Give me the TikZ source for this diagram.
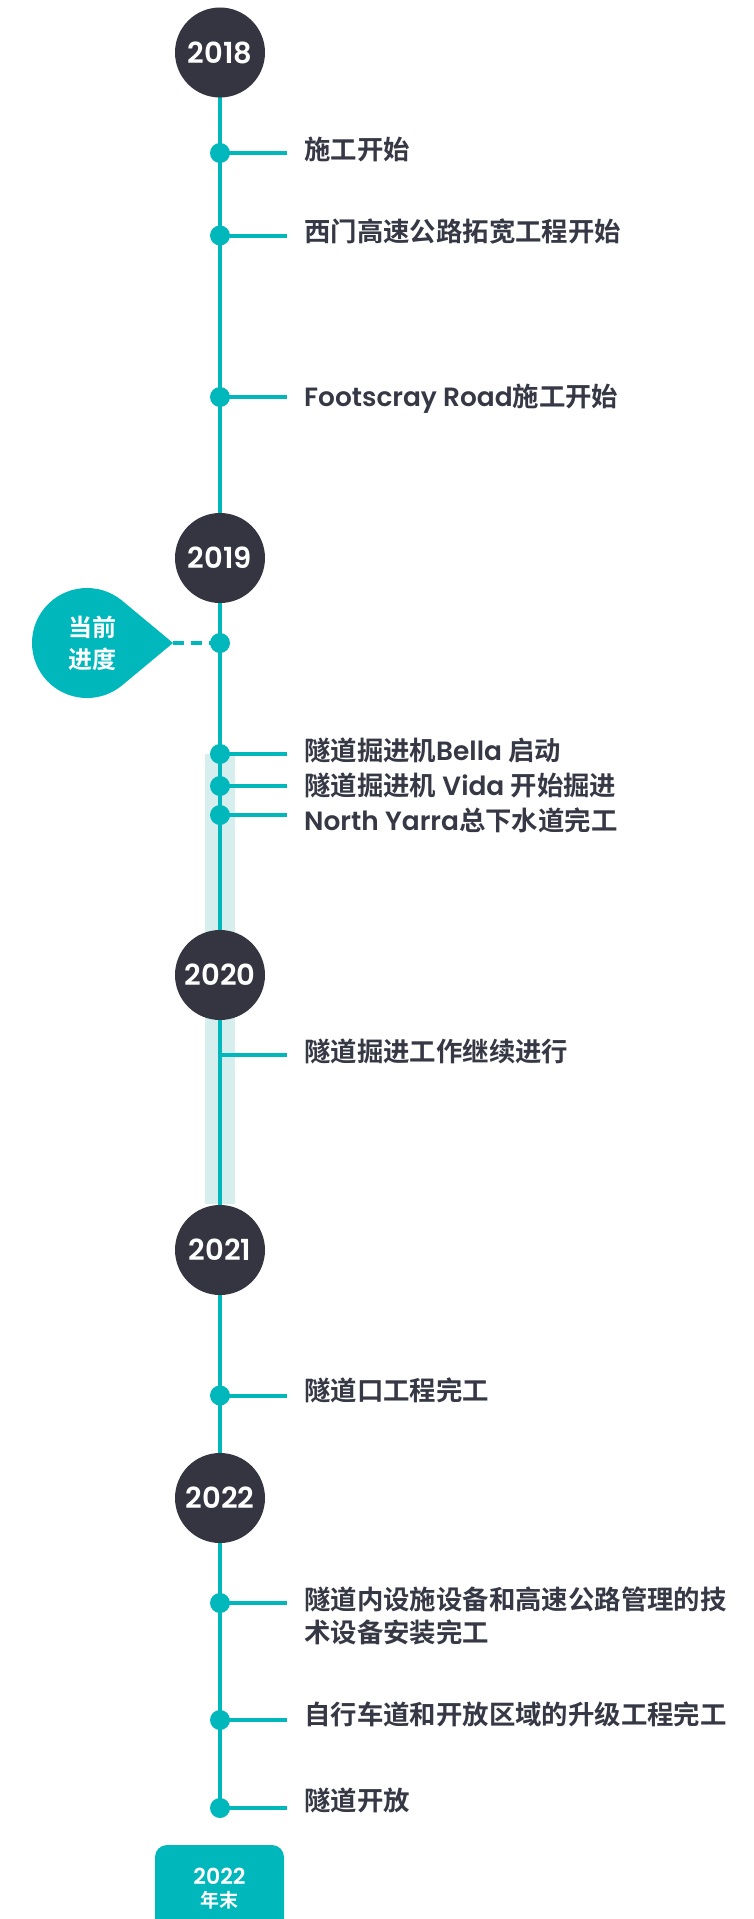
\documentclass[tikz,border=0pt]{standalone}
\usepackage{fontspec}
\newfontfamily\cjk{Noto Sans CJK SC}[BoldFont={Noto Sans CJK SC Bold}]
\newfontfamily\lat{Poppins}[BoldFont={Poppins SemiBold}]
\usetikzlibrary{calc}
\usetikzlibrary{backgrounds}
\definecolor{vrteal}{HTML}{00B8BC}
\definecolor{vrdark}{HTML}{343541}
\definecolor{vrtext}{HTML}{363845}
\definecolor{vrband}{HTML}{D6EEEE}

\begin{document}
\begin{tikzpicture}[x=1pt,y=-1pt,
            year/.style = {circle,fill=vrdark,minimum size=90pt,inner sep=0pt,
                text=white,font=\lat\bfseries\fontsize{29}{29}\selectfont},
            dot/.style = {circle,fill=vrteal,minimum size=20pt,inner sep=0pt},
            tick/.style = {draw=vrteal,line width=4pt},
            spine/.style = {draw=vrteal,line width=3.5pt},
            lbl/.style = {anchor=base west,inner sep=0pt,text=vrtext,align=left,
                font=\cjk\bfseries\fontsize{26.4}{33}\selectfont}]
            \useasboundingbox (0,0) rectangle (754,1919);
            \coordinate (tx) at (287,0);
            \node[year] (y18) at (220,52.5) {2018};
            \node[year] (y19) at (220,558) {2019};
            \node[year] (y20) at (220,975) {2020};
            \node[year] (y21) at (220,1250) {2021};
            \node[year] (y22) at (220,1498) {2022};
            \node[dot] (d1) at (220,153) {};
            \node[dot] (d2) at (220,235.5) {};
            \node[dot] (d3) at (220,397) {};
            \node[dot] (d4) at (220,643) {};
            \node[dot] (d5) at (220,754) {};
            \node[dot] (d6) at (220,786) {};
            \node[dot] (d7) at (220,815) {};
            \coordinate (k1) at (220,1055);
            \node[dot] (d8) at (220,1395.5) {};
            \node[dot] (d9) at (220,1603) {};
            \node[dot] (d10) at (220,1720) {};
            \node[dot] (d11) at (220,1808) {};
            \node[lbl] (l1) at (304,159.5) {施工开始};
            \node[lbl] (l2) at (304,241.5) {西门高速公路拓宽工程开始};
            \node[lbl] (l3) at (304,406) {{\lat Footscray Road}施工开始};
            \node[lbl] (l4) at (304,760) {隧道掘进机{\lat Bella }启动};
            \node[lbl] (l5) at (304,795) {隧道掘进机{\lat\ Vida }开始掘进};
            \node[lbl] (l6) at (304,830) {{\lat North Yarra}总下水道完工};
            \node[lbl] (l7) at (304,1061) {隧道掘进工作继续进行};
            \node[lbl] (l8) at (304,1400) {隧道口工程完工};
            \node[lbl,anchor=west] (l9) at (304,1615.5)
                {隧道内设施设备和高速公路管理的技\\术设备安装完工};
            \node[lbl] (l10) at (304,1724) {自行车道和开放区域的升级工程完工};
            \node[lbl] (l11) at (304,1810) {隧道开放};
            % current progress marker
            \coordinate (tc) at (87,643);
            \coordinate (tip) at (173,643);
            \fill[vrteal] (tip) -- ($(tc)+(50.2:55pt)$)
                arc[start angle=50.2,end angle=309.8,radius=55pt] -- cycle;
            \node[text=white,align=center,inner sep=0pt,
                font=\cjk\bfseries\fontsize{24}{32}\selectfont] (now) at (92,643) {当前\\进度};
            \draw[vrteal,line width=4pt,dash pattern=on 11pt off 7pt] (tip) -- (d4.center);
            % end box
            \node[fill=vrteal,rounded corners=12pt,minimum width=129pt,minimum height=88pt,
                text=white,align=center,inner sep=0pt,
                font=\bfseries\fontsize{22}{23}\selectfont] (fin) at (219.5,1889)
                {{\lat 2022}\\{\cjk\fontsize{19}{23}\selectfont 年末}};
            \begin{scope}[on background layer]
                \fill[vrband] (205,754) rectangle (235,1204);
                \draw[spine] (y18.center) -- (d11.center);
                \foreach \d in {d1,d2,d3,d5,d6,d7,k1,d8,d9,d10,d11}
                    \draw[tick] (\d.center) -- (\d.center -| tx);
            \end{scope}
        \end{tikzpicture}
\end{document}
